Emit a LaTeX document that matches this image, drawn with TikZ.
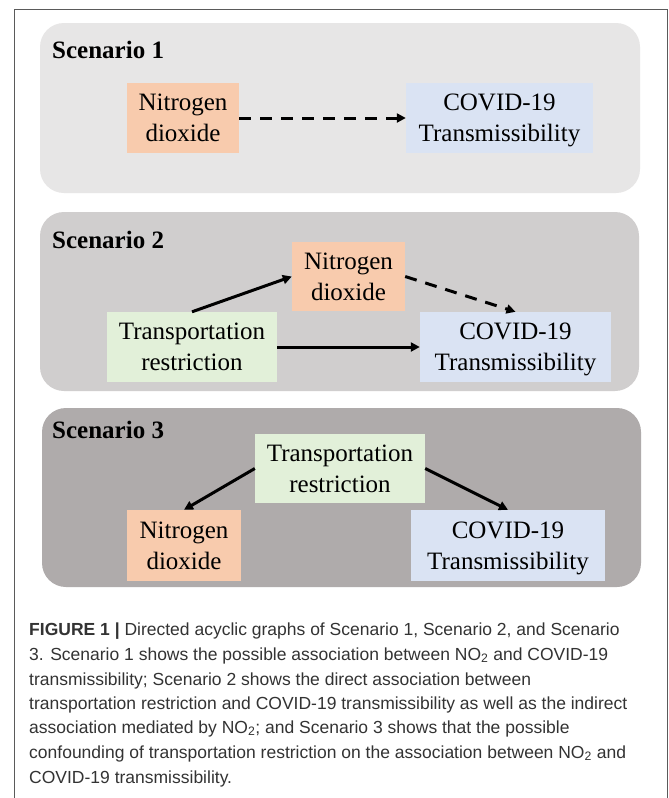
\documentclass[tikz,border=0pt]{standalone}
\usepackage{fontspec}
\setmainfont{Liberation Serif}
\newfontfamily\capfont{Liberation Sans}
\usetikzlibrary{arrows.meta}
\definecolor{bgA}{HTML}{E7E6E6}
\definecolor{bgB}{HTML}{D0CECE}
\definecolor{bgC}{HTML}{AFABAB}
\definecolor{orangebox}{HTML}{F8CBAD}
\definecolor{bluebox}{HTML}{DAE3F3}
\definecolor{greenbox}{HTML}{E2F0D9}
\definecolor{framegray}{HTML}{5A5A5A}
\definecolor{captext}{HTML}{333333}
\begin{document}
\begin{tikzpicture}[x=1pt,y=-1pt,
  panel/.style={fill=#1, rounded corners=24pt, draw=none},
  varbox/.style={fill=#1, draw=none, inner sep=0pt, align=center,
    font=\fontsize{25}{31}\selectfont},
  heading/.style={anchor=base west, inner sep=0pt,
    font=\fontsize{25}{30}\selectfont\bfseries},
  link/.style={line width=3pt, -{Triangle[length=9pt,width=9pt]}},
  dashlink/.style={link, dash pattern=on 12pt off 9pt},
  capline/.style={anchor=base west, inner sep=0pt, text=captext,
    font=\capfont\fontsize{17.5}{24}\selectfont}]
\useasboundingbox (0,0) rectangle (669,798);
\fill[white] (0,0) rectangle (669,798);
% outer frame
\draw[framegray, line width=1pt] (14,800) -- (14,9) -- (667,9) -- (667,800);

% panels
\path[panel=bgA] (40,23) rectangle (640,193);
\path[panel=bgB] (40,212) rectangle (639,391);
\path[panel=bgC] (42,408) rectangle (641,587);

% Scenario 1
\node[heading] (h1) at (52,58) {Scenario 1};
\node[varbox=orangebox, minimum width=112pt, minimum height=70pt] (n1) at (183,118) {Nitrogen\\dioxide};
\node[varbox=bluebox, minimum width=187pt, minimum height=70pt] (c1) at (499.5,118) {COVID-19\\Transmissibilit\smash{y}};
\draw[dashlink] (n1.east) -- (c1.west);

% Scenario 2
\node[heading] (h2) at (52,248) {Scenario 2};
\node[varbox=orangebox, minimum width=113pt, minimum height=69pt] (n2) at (348.5,276.5) {Nitrogen\\dioxide};
\node[varbox=greenbox, minimum width=170pt, minimum height=70pt] (t2) at (192,347) {Transportation\\restriction};
\node[varbox=bluebox, minimum width=191pt, minimum height=70pt] (c2) at (515.5,347) {COVID-19\\Transmissibilit\smash{y}};
\draw[link] (t2.north) -- (n2.west);
\draw[dashlink] (n2.east) -- (c2.north);
\draw[link] (t2.east) -- (c2.west);

% Scenario 3
\node[heading] (h3) at (52,438) {Scenario 3};
\node[varbox=greenbox, minimum width=170pt, minimum height=69pt] (t3) at (340,468.5) {Transportation\\restriction};
\node[varbox=orangebox, minimum width=114pt, minimum height=71pt] (n3) at (184,545.5) {Nitrogen\\dioxide};
\node[varbox=bluebox, minimum width=194pt, minimum height=71pt] (c3) at (508,545.5) {COVID-19\\Transmissibilit\smash{y}};
\draw[link] (t3.west) -- (n3.north);
\draw[link] (t3.east) -- (c3.north);

% caption
\node[capline] (cap1) at (29,635) {\textbf{FIGURE 1 |} Directed acyclic graphs of Scenario 1, Scenario 2, and Scenario};
\node[capline] (cap2) at (29,660) {3. Scenario 1 shows the possible association between NO\textsubscript{2} and COVID-19};
\node[capline] (cap3) at (29,685) {transmissibility; Scenario 2 shows the direct association between};
\node[capline] (cap4) at (29,709) {transportation restriction and COVID-19 transmissibility as well as the indirect};
\node[capline] (cap5) at (29,733) {association mediated by NO\textsubscript{2}; and Scenario 3 shows that the possible};
\node[capline] (cap6) at (29,758) {confounding of transportation restriction on the association between NO\textsubscript{2} and};
\node[capline] (cap7) at (29,783) {COVID-19 transmissibility.};
\end{tikzpicture}
\end{document}
